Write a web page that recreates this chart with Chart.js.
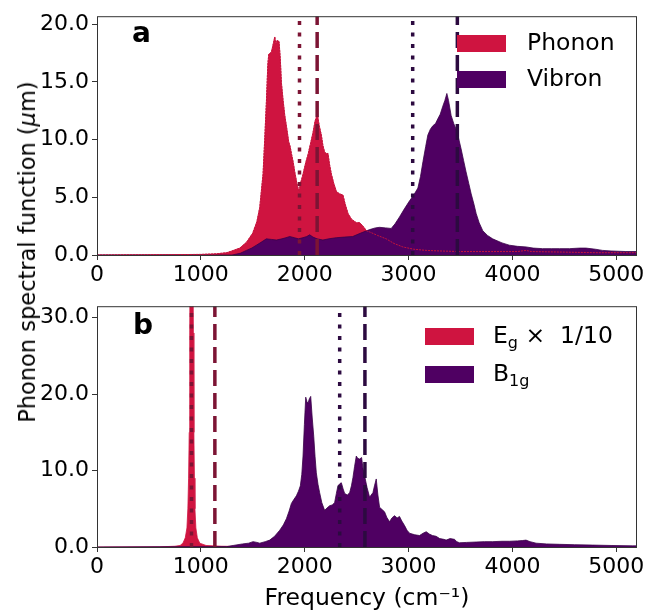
<!DOCTYPE html>
<html>
<head>
<meta charset="utf-8">
<script src="https://cdn.jsdelivr.net/npm/chart.js@4.4.1/dist/chart.umd.min.js"></script>
<style>
  html, body { margin: 0; padding: 0; background: #fff; }
  #wrap { position: relative; width: 648px; height: 613px; font-family: "DejaVu Sans", sans-serif; }
  canvas { position: absolute; left: 0; }
  #ytitle {
    position: absolute; left: 27px; top: 252px;
    transform: translate(-50%, -50%) rotate(-90deg);
    white-space: nowrap; font-size: 22.5px; color: #000;
  }
</style>
</head>
<body>
<div id="wrap">
  <canvas id="chart-a" width="648" height="290" style="top:0"></canvas>
  <canvas id="chart-b" width="648" height="323" style="top:290px"></canvas>
  <div id="ytitle">Phonon spectral function (<i>μ</i>m)</div>
</div>
<script>
// ─── Data ────────────────────────────────────────────────────────────────────

const xTicks = [0, 1000, 2000, 3000, 4000, 5000];
const yTicksA = [0, 5, 10, 15, 20];
const yTicksB = [0, 10, 20, 30];

// panel a: phonon
const phononFreq = [0, 500, 1000, 1150, 1250, 1300, 1375, 1440, 1500, 1540, 1567, 1599, 1615, 1631, 1645, 1654, 1668, 1680, 1695, 1712, 1722, 1734, 1753, 1765, 1776, 1792, 1808, 1830, 1846, 1860, 1872, 1890, 1904, 1925, 1945, 1960, 1984, 2010, 2032, 2055, 2080, 2100, 2122, 2140, 2160, 2175, 2192, 2210, 2224, 2240, 2257, 2280, 2305, 2335, 2368, 2390, 2417, 2450, 2497, 2530, 2561, 2595, 2625, 2700, 2785, 2860, 2945, 3050, 3170, 3300, 3490, 3800, 4050, 4132, 4180, 4500, 4800, 5200];
const phononVal = [0, 0.02, 0.05, 0.1, 0.2, 0.35, 0.6, 1.1, 1.9, 2.9, 4.1, 7.0, 10, 13.2, 16.5, 17.4, 17.5, 17.6, 18.2, 18.9, 18.3, 18.6, 18.5, 17, 14.9, 13.4, 12.1, 10.8, 9.8, 9.4, 8.8, 8.0, 7.2, 6.2, 5.5, 6.2, 7.0, 8.0, 8.7, 9.6, 10.6, 11.6, 12.2, 11.2, 10.4, 9.5, 8.9, 8.8, 8.8, 7.8, 7.0, 6.2, 5.5, 5.3, 5.2, 4.4, 3.6, 3.1, 2.8, 2.8, 2.5, 2.1, 2.0, 1.7, 1.4, 1.0, 0.7, 0.5, 0.4, 0.35, 0.3, 0.3, 0.3, 0.4, 0.3, 0.25, 0.2, 0.2];

// panel a: vibron
const vibronFreq = [0, 1300, 1380, 1439, 1490, 1535, 1580, 1631, 1680, 1728, 1780, 1820, 1856, 1900, 1940, 1983, 2020, 2048, 2080, 2120, 2175, 2230, 2305, 2380, 2462, 2540, 2625, 2680, 2721, 2780, 2833, 2870, 2913, 2960, 3010, 3050, 3090, 3115, 3139, 3165, 3186, 3210, 3234, 3260, 3282, 3305, 3330, 3350, 3369, 3385, 3410, 3435, 3458, 3480, 3506, 3530, 3554, 3580, 3603, 3630, 3651, 3680, 3715, 3760, 3810, 3900, 3971, 4050, 4132, 4200, 4290, 4380, 4452, 4550, 4650, 4708, 4800, 4867, 4950, 5093, 5200];
const vibronVal = [0, 0, 0.15, 0.4, 0.6, 0.85, 1.1, 1.4, 1.35, 1.3, 1.4, 1.5, 1.6, 1.5, 1.4, 1.5, 1.6, 1.75, 1.55, 1.4, 1.3, 1.4, 1.5, 1.55, 1.6, 1.9, 2.2, 2.35, 2.4, 2.35, 2.3, 2.7, 3.3, 4.0, 4.7, 5.2, 5.8, 6.8, 8.1, 9.4, 10.4, 10.9, 11.2, 11.4, 11.8, 12.2, 12.9, 13.4, 14.0, 13.4, 12.1, 11.4, 10.9, 10.2, 9.2, 8.2, 7.2, 6.2, 5.3, 4.4, 3.6, 2.8, 2.1, 1.7, 1.4, 1.05, 0.85, 0.75, 0.7, 0.6, 0.55, 0.55, 0.55, 0.55, 0.6, 0.6, 0.5, 0.4, 0.35, 0.3, 0.3];

// panel b: Eg (already scaled by 1/10)
const egFreq = [0, 600, 750, 800, 827, 850, 866, 875, 882, 888, 893, 897, 923, 928, 933, 938, 943, 952, 966, 990, 1050, 1200, 1500, 5200];
const egVal = [0, 0.02, 0.1, 0.2, 0.5, 1.2, 2.5, 5, 9, 15, 28, 40, 40, 28, 15, 9, 5, 2.5, 1.2, 0.5, 0.2, 0.1, 0.05, 0.02];

// panel b: B1g
const b1gFreq = [0, 1250, 1311, 1400, 1460, 1503, 1540, 1567, 1620, 1663, 1710, 1760, 1795, 1824, 1850, 1872, 1895, 1920, 1940, 1958, 1972, 1984, 1997, 2010, 2022, 2032, 2045, 2058, 2072, 2087, 2100, 2112, 2128, 2144, 2165, 2192, 2215, 2240, 2265, 2288, 2305, 2320, 2340, 2353, 2370, 2385, 2410, 2433, 2450, 2465, 2480, 2497, 2510, 2529, 2548, 2562, 2577, 2600, 2625, 2640, 2657, 2672, 2689, 2705, 2721, 2745, 2769, 2790, 2817, 2840, 2865, 2890, 2913, 2935, 2962, 2985, 3010, 3060, 3106, 3140, 3170, 3200, 3230, 3266, 3300, 3340, 3362, 3400, 3442, 3465, 3490, 3560, 3651, 3730, 3811, 3900, 3971, 4050, 4100, 4131, 4170, 4228, 4330, 4452, 4600, 4772, 4950, 5155, 5200];
const b1gVal = [0, 0.05, 0.2, 0.4, 0.5, 0.7, 0.6, 0.5, 0.7, 0.9, 1.4, 2.2, 2.9, 3.7, 4.7, 5.7, 6.2, 6.7, 7.3, 8.0, 9.5, 11.9, 16, 19.6, 19.0, 18.8, 19.4, 19.7, 17, 14.5, 11.8, 9.7, 8.2, 7.1, 5.8, 4.8, 5.1, 5.4, 5.5, 5.8, 7, 8.0, 8.3, 8.4, 7.6, 7.0, 6.8, 7.1, 8, 9.1, 10.5, 11.9, 11.6, 11.5, 11.7, 10.2, 9.3, 7.8, 6.5, 6.8, 7.1, 8.0, 8.9, 6.8, 5.2, 4.9, 4.6, 3.9, 3.3, 3.8, 4.1, 3.8, 4.0, 3.4, 2.8, 2.2, 1.8, 1.6, 1.5, 1.8, 2.0, 1.7, 1.5, 1.4, 1.1, 1.0, 0.9, 1.1, 1.0, 0.7, 0.55, 0.6, 0.65, 0.7, 0.7, 0.75, 0.75, 0.8, 0.85, 0.9, 0.7, 0.5, 0.4, 0.35, 0.3, 0.25, 0.2, 0.15, 0.15];

// vertical marker positions: [dotted, dashed]
const phononMarks = [1950, 2120];
const vibronMarks = [3040, 3470];
const egMarks = [910, 1135];
const b1gMarks = [2337, 2580];

const X_MAX = 5200;
const Y_MAX_A = 20.7;
const Y_MAX_B = 31.5;

// ─── Style helpers ───────────────────────────────────────────────────────────

const FONT = "'DejaVu Sans', sans-serif";
const RED = "#cf1440";
const PURPLE = "#4f0062";
const RED_MARK = "#7c1434";
const PURPLE_MARK = "#2c0a40";
const AXIS = "#333";

const pts = (xs, ys) => xs.map((x, i) => ({ x, y: ys[i] }));

function fillSet(label, xs, ys, color, edge, order) {
  return {
    label,
    data: pts(xs, ys),
    backgroundColor: color,
    borderColor: edge,
    borderWidth: 0.8,
    fill: "origin",
    pointRadius: 0,
    tension: 0,
    order,
  };
}

function markSet(x, yMax, color, dotted) {
  return {
    data: [{ x, y: 0 }, { x, y: yMax }],
    borderColor: color,
    borderWidth: 3.5,
    borderDash: dotted ? [4, 7.5] : [16, 7],
    borderCapStyle: "butt",
    pointRadius: 0,
    fill: false,
    order: 0,
  };
}

function xScale(height, showTitle) {
  return {
    type: "linear",
    min: 0,
    max: X_MAX,
    afterBuildTicks: (s) => { s.ticks = xTicks.map((v) => ({ value: v })); },
    afterFit: (s) => { s.height = height; },
    grid: { drawOnChartArea: false, drawTicks: true, tickLength: 5, color: AXIS },
    border: { display: false },
    ticks: {
      color: "#000",
      padding: 2,
      maxRotation: 0,
      autoSkip: false,
      font: { family: FONT, size: 22 },
      callback: (v) => String(v),
    },
    title: {
      display: showTitle,
      text: "Frequency (cm⁻¹)",
      color: "#000",
      font: { family: FONT, size: 23.5 },
      padding: { top: 0, bottom: 0 },
    },
  };
}

function yScale(max, ticks) {
  return {
    min: 0,
    max,
    afterBuildTicks: (s) => { s.ticks = ticks.map((v) => ({ value: v })); },
    afterFit: (s) => { s.width = 97; },
    grid: { drawOnChartArea: false, drawTicks: true, tickLength: 5, color: AXIS },
    border: { display: false },
    ticks: {
      color: "#000",
      padding: 3,
      font: { family: FONT, size: 22 },
      callback: (v) => v.toFixed(1),
    },
  };
}

// box around the plot + panel letter + legend inside the axes
const decoPlugin = {
  id: "deco",
  afterDraw(chart, args, opts) {
    const { ctx, chartArea: a } = chart;
    ctx.save();
    ctx.strokeStyle = AXIS;
    ctx.lineWidth = 1;
    ctx.strokeRect(a.left + 0.5, a.top + 0.5, a.right - a.left - 1, a.bottom - a.top);

    ctx.fillStyle = "#000";
    ctx.textBaseline = "alphabetic";
    ctx.font = `bold 28px ${FONT}`;
    ctx.fillText(opts.letter, opts.letterX, opts.letterY);

    ctx.textBaseline = "middle";
    opts.items.forEach((it, i) => {
      const y = opts.top + i * opts.gap;
      ctx.fillStyle = it.color;
      ctx.fillRect(opts.boxX, y, 49, 17);
      ctx.fillStyle = "#000";
      let x = opts.textX;
      const mid = y + 9;
      it.parts.forEach((p) => {
        ctx.font = `${p.sub ? 16 : 23.5}px ${FONT}`;
        ctx.fillText(p.t, x, p.sub ? mid + 7 : mid);
        x += ctx.measureText(p.t).width;
      });
    });
    ctx.restore();
  },
};

// ─── Charts ──────────────────────────────────────────────────────────────────

function renderPanelA() {
  const ctx = document.getElementById("chart-a").getContext("2d");
  new Chart(ctx, {
    type: "line",
    data: {
      datasets: [
        fillSet("Phonon", phononFreq, phononVal, RED, RED, 3),
        fillSet("Vibron", vibronFreq, vibronVal, PURPLE, "#3a0049", 2),
        { ...fillSet("", phononFreq, phononVal, "transparent", "#c4143c", 1), fill: false, borderWidth: 1, borderDash: [2, 1] },
        markSet(phononMarks[0], Y_MAX_A, RED_MARK, true),
        markSet(phononMarks[1], Y_MAX_A, RED_MARK, false),
        markSet(vibronMarks[0], Y_MAX_A, PURPLE_MARK, true),
        markSet(vibronMarks[1], Y_MAX_A, PURPLE_MARK, false),
      ],
    },
    options: {
      responsive: false,
      animation: false,
      layout: { padding: { top: 12, right: 11, left: 0, bottom: 0 } },
      plugins: {
        legend: { display: false },
        tooltip: { enabled: false },
        deco: {
          letter: "a", letterX: 132, letterY: 42,
          boxX: 457, textX: 527, top: 35, gap: 36,
          items: [
            { color: RED, parts: [{ t: "Phonon" }] },
            { color: PURPLE, parts: [{ t: "Vibron" }] },
          ],
        },
      },
      scales: { x: xScale(35, false), y: yScale(Y_MAX_A, yTicksA) },
    },
    plugins: [decoPlugin],
  });
}

function renderPanelB() {
  const ctx = document.getElementById("chart-b").getContext("2d");
  new Chart(ctx, {
    type: "line",
    data: {
      datasets: [
        fillSet("Eg", egFreq, egVal, RED, RED, 3),
        fillSet("B1g", b1gFreq, b1gVal, PURPLE, "#3a0049", 2),
        markSet(egMarks[0], Y_MAX_B, RED_MARK, true),
        markSet(egMarks[1], Y_MAX_B, RED_MARK, false),
        markSet(b1gMarks[0], Y_MAX_B, PURPLE_MARK, true),
        markSet(b1gMarks[1], Y_MAX_B, PURPLE_MARK, false),
      ],
    },
    options: {
      responsive: false,
      animation: false,
      layout: { padding: { top: 13, right: 11, left: 0, bottom: 0 } },
      plugins: {
        legend: { display: false },
        tooltip: { enabled: false },
        deco: {
          letter: "b", letterX: 133, letterY: 44,
          boxX: 425, textX: 493, top: 38, gap: 38,
          items: [
            { color: RED, parts: [{ t: "E" }, { t: "g", sub: true }, { t: " ×  1/10" }] },
            { color: PURPLE, parts: [{ t: "B" }, { t: "1g", sub: true }] },
          ],
        },
      },
      scales: { x: xScale(66, true), y: yScale(Y_MAX_B, yTicksB) },
    },
    plugins: [decoPlugin],
  });
}

document.addEventListener("DOMContentLoaded", () => {
  renderPanelA();
  renderPanelB();
});
</script>
</body>
</html>
